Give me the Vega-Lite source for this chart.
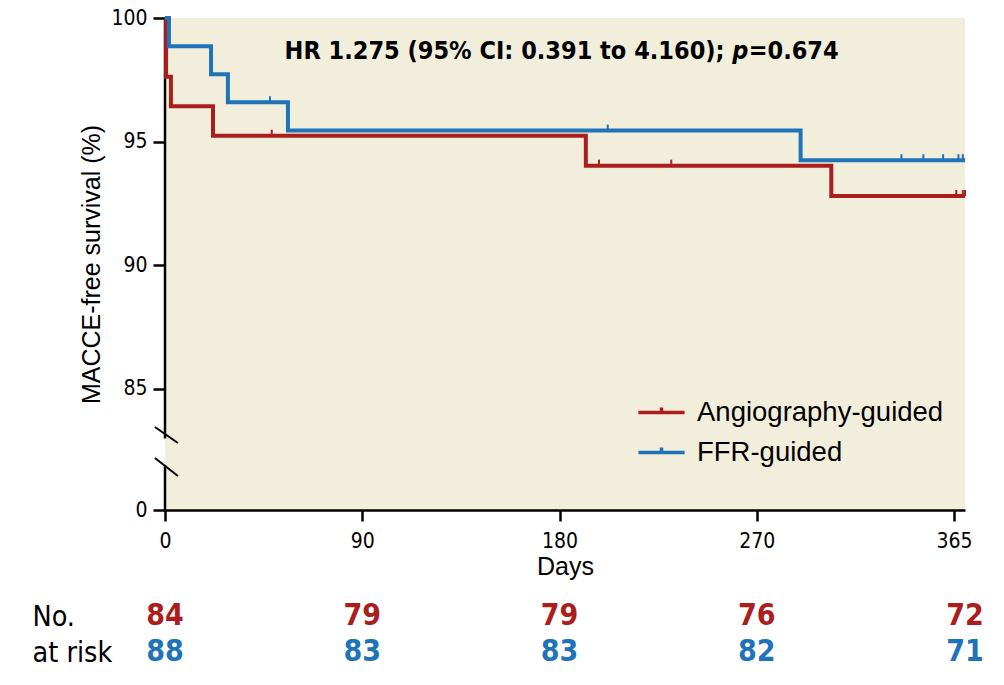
{
  "$schema": "https://vega.github.io/schema/vega-lite/v6.json",
  "width": 800,
  "height": 492,
  "autosize": {"type": "none"},
  "padding": {"left": 165, "top": 18, "right": 39, "bottom": 175},
  "background": "white",
  "config": {
    "view": {"fill": "#f2eedc", "stroke": null},
    "axis": {"grid": false, "labelColor": "black", "titleColor": "black"}
  },
  "datasets": {
    "km": [
      {"group": "Angiography-guided", "day": 0, "surv": 100},
      {"group": "Angiography-guided", "day": 0.5, "surv": 97.62},
      {"group": "Angiography-guided", "day": 2.7, "surv": 96.43},
      {"group": "Angiography-guided", "day": 21.9, "surv": 95.24},
      {"group": "Angiography-guided", "day": 192, "surv": 94.03},
      {"group": "Angiography-guided", "day": 304, "surv": 92.8},
      {"group": "Angiography-guided", "day": 365, "surv": 92.8},
      {"group": "FFR-guided", "day": 0, "surv": 100},
      {"group": "FFR-guided", "day": 1.8, "surv": 98.86},
      {"group": "FFR-guided", "day": 21, "surv": 97.73},
      {"group": "FFR-guided", "day": 28.7, "surv": 96.59},
      {"group": "FFR-guided", "day": 56.1, "surv": 95.45},
      {"group": "FFR-guided", "day": 290, "surv": 94.25},
      {"group": "FFR-guided", "day": 365, "surv": 94.25}
    ],
    "censor": [
      {"group": "Angiography-guided", "day": 48.7, "surv": 95.24},
      {"group": "Angiography-guided", "day": 198, "surv": 94.03},
      {"group": "Angiography-guided", "day": 231, "surv": 94.03},
      {"group": "Angiography-guided", "day": 361, "surv": 92.8},
      {"group": "Angiography-guided", "day": 364, "surv": 92.8},
      {"group": "Angiography-guided", "day": 365, "surv": 92.8},
      {"group": "FFR-guided", "day": 47.9, "surv": 96.59},
      {"group": "FFR-guided", "day": 202, "surv": 95.45},
      {"group": "FFR-guided", "day": 336, "surv": 94.25},
      {"group": "FFR-guided", "day": 346, "surv": 94.25},
      {"group": "FFR-guided", "day": 355, "surv": 94.25},
      {"group": "FFR-guided", "day": 362, "surv": 94.25},
      {"group": "FFR-guided", "day": 364, "surv": 94.25}
    ],
    "axisline": [
      {"x": 0, "y": 100, "y2": 83},
      {"x": 0, "y": 52, "y2": 0}
    ],
    "breakmarks": [
      {"x": -4.6, "x2": 5.9, "y": 83.46, "y2": 77.7},
      {"x": -4.6, "x2": 5.9, "y": 60.3, "y2": 39.4}
    ],
    "annot": [
      {"part": "main", "text": "HR 1.275 (95% CI: 0.391 to 4.160);"},
      {"part": "p", "text": "p"},
      {"part": "value", "text": "=0.674"}
    ],
    "risk": [
      {"group": "Angiography-guided", "day": 0, "n": 84},
      {"group": "Angiography-guided", "day": 90, "n": 79},
      {"group": "Angiography-guided", "day": 180, "n": 79},
      {"group": "Angiography-guided", "day": 270, "n": 76},
      {"group": "Angiography-guided", "day": 365, "n": 72},
      {"group": "FFR-guided", "day": 0, "n": 88},
      {"group": "FFR-guided", "day": 90, "n": 83},
      {"group": "FFR-guided", "day": 180, "n": 83},
      {"group": "FFR-guided", "day": 270, "n": 82},
      {"group": "FFR-guided", "day": 365, "n": 71}
    ]
  },
  "resolve": {"scale": {"y": "independent"}},
  "layer": [
    {
      "encoding": {
        "x": {
          "type": "quantitative",
          "scale": {"domain": [0, 365], "nice": false, "zero": false},
          "axis": {
            "values": [0, 90, 180, 270, 360],
            "labelExpr": "datum.value == 360 ? '365' : datum.label",
            "tickSize": 11, "tickWidth": 2.5, "tickColor": "black",
            "domainWidth": 2.5, "domainColor": "black",
            "labelFont": "DejaVu Sans Condensed, Roboto Condensed, Liberation Sans Narrow, sans-serif", "labelFontSize": 21, "labelPadding": 9,
            "labelFlush": false,
            "title": "Days", "titleFont": "Liberation Sans", "titleFontSize": 25,
            "titleFontWeight": "normal", "titlePadding": 3
          }
        },
        "y": {
          "type": "quantitative",
          "scale": {"domain": [0, 83, 100], "range": [492, 420.4, 0], "nice": false, "zero": false},
          "axis": {
            "values": [0, 85, 90, 95, 100],
            "domain": false,
            "tickSize": 12, "tickWidth": 2.5, "tickColor": "black",
            "labelFont": "DejaVu Sans Condensed, Roboto Condensed, Liberation Sans Narrow, sans-serif", "labelFontSize": 21, "labelPadding": 6,
            "labelFlush": false,
            "title": "MACCE-free survival (%)", "titleFont": "Liberation Sans", "titleFontSize": 25,
            "titleFontWeight": "normal", "titlePadding": 6
          }
        }
      },
      "layer": [
        {
          "data": {"name": "axisline"},
          "mark": {"type": "rule", "color": "black", "strokeWidth": 2.5},
          "encoding": {
            "x": {"field": "x", "type": "quantitative"},
            "y": {"field": "y", "type": "quantitative"},
            "y2": {"field": "y2"}
          }
        },
        {
          "data": {"name": "breakmarks"},
          "mark": {"type": "rule", "color": "black", "strokeWidth": 2},
          "encoding": {
            "x": {"field": "x", "type": "quantitative"},
            "x2": {"field": "x2"},
            "y": {"field": "y", "type": "quantitative"},
            "y2": {"field": "y2"}
          }
        },
        {
          "data": {"name": "km"},
          "mark": {"type": "line", "interpolate": "step-after", "strokeWidth": 4},
          "encoding": {
            "x": {"field": "day", "type": "quantitative"},
            "y": {"field": "surv", "type": "quantitative"},
            "color": {
              "field": "group", "type": "nominal",
              "scale": {"domain": ["Angiography-guided", "FFR-guided"], "range": ["#aa1e1e", "#1e73b9"]},
              "legend": {
                "orient": "none", "legendX": 478, "legendY": 376, "title": null,
                "symbolType": "M-1.4,0H1.4M0,0V-0.3", "symbolSize": 1089, "symbolStrokeWidth": 3.5,
                "labelFont": "Liberation Sans", "labelFontSize": 27.5, "labelColor": "black", "labelLimit": 400,
                "labelOffset": 17, "rowPadding": 8, "padding": 0
              }
            }
          }
        },
        {
          "data": {"name": "censor"},
          "mark": {"type": "point", "shape": "M0,0L0,-1", "size": 144, "filled": false, "strokeWidth": 2, "opacity": 1},
          "encoding": {
            "x": {"field": "day", "type": "quantitative"},
            "y": {"field": "surv", "type": "quantitative"},
            "color": {"field": "group", "type": "nominal"}
          }
        },
        {
          "data": {"name": "annot"},
          "transform": [{"filter": "datum.part === 'main'"}],
          "mark": {"type": "text", "align": "right", "baseline": "middle",
                   "font": "DejaVu Sans Condensed, Roboto Condensed, Liberation Sans Narrow, sans-serif", "fontWeight": "bold", "fontSize": 25, "color": "black"},
          "encoding": {"x": {"datum": 255.3}, "y": {"datum": 98.65}, "text": {"field": "text"}}
        },
        {
          "data": {"name": "annot"},
          "transform": [{"filter": "datum.part === 'p'"}],
          "mark": {"type": "text", "align": "left", "baseline": "middle",
                   "font": "DejaVu Sans Condensed, Roboto Condensed, Liberation Sans Narrow, sans-serif", "fontWeight": "bold", "fontStyle": "italic", "fontSize": 25, "color": "black"},
          "encoding": {"x": {"datum": 258.8}, "y": {"datum": 98.65}, "text": {"field": "text"}}
        },
        {
          "data": {"name": "annot"},
          "transform": [{"filter": "datum.part === 'value'"}],
          "mark": {"type": "text", "align": "left", "baseline": "middle",
                   "font": "DejaVu Sans Condensed, Roboto Condensed, Liberation Sans Narrow, sans-serif", "fontWeight": "bold", "fontSize": 25, "color": "black"},
          "encoding": {"x": {"datum": 266.3}, "y": {"datum": 98.65}, "text": {"field": "text"}}
        }
      ]
    },
    {
      "data": {"name": "risk"},
      "mark": {"type": "text", "align": "center", "baseline": "middle", "font": "DejaVu Sans Condensed, Roboto Condensed, Liberation Sans Narrow, sans-serif", "fontWeight": "bold", "fontSize": 30},
      "encoding": {
        "x": {"field": "day", "type": "quantitative", "scale": {"domain": [0, 365], "nice": false, "zero": false}},
        "y": {
          "field": "group", "type": "nominal",
          "scale": {"type": "point", "domain": ["Angiography-guided", "FFR-guided"], "range": [598, 634], "padding": 0},
          "axis": {
            "orient": "left", "domain": false, "ticks": false, "title": null,
            "labelExpr": "datum.value === 'Angiography-guided' ? 'No.' : 'at risk'",
            "labelAlign": "left", "labelBaseline": "middle", "labelPadding": 133,
            "labelFont": "DejaVu Sans Condensed, Roboto Condensed, Liberation Sans Narrow, sans-serif", "labelFontSize": 28.5, "labelColor": "black"
          }
        },
        "text": {"field": "n", "type": "quantitative"},
        "color": {
          "condition": {"test": "datum.group === 'Angiography-guided'", "value": "#aa1e1e"},
          "value": "#1e73b9"
        }
      }
    }
  ]
}
